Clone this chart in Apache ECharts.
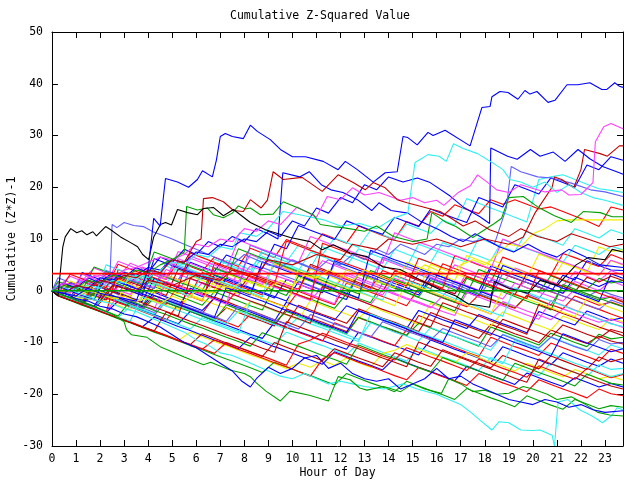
<!DOCTYPE html>
<html><head><meta charset="utf-8">
<script src="https://cdn.jsdelivr.net/npm/echarts@6/dist/echarts.min.js"></script>
<style>html,body{margin:0;padding:0;background:#fff}#c{width:640px;height:480px}</style>
</head><body><div id="c"></div>
<script>
// ---- data ----
const START_HOUR = 0, START_VALUE = 0;
const HOURS = [0.25,0.75,1.25,1.75,2.25,2.75,3.25,3.75,4.25,4.75,5.25,5.75,6.25,6.75,7.25,7.75,8.25,8.75,9.25,9.75,10.25,10.75,11.25,11.75,12.25,12.75,13.25,13.75,14.25,14.75,15.25,15.75,16.25,16.75,17.25,17.75,18.25,18.75,19.25,19.75,20.25,20.75,21.25,21.75,22.25,22.75,23.25,23.75];
const X_TICKS = [0,1,2,3,4,5,6,7,8,9,10,11,12,13,14,15,16,17,18,19,20,21,22,23];
const RED_LEVEL = 3.3, GREEN_LEVEL = 0;

// traced lines: [hour, value]
const tBlueTop = [[0,0],[0.5,-0.5],[1,-1],[1.5,0.5],[2,-0.5],[2.5,-1],[3,-1.5],[3.5,-2],[4.0,4],[4.23,14],[4.5,12.5],[4.72,21.7],[5.22,21],[5.68,20],[6.05,21.5],[6.26,23.2],[6.67,22],[6.84,25.3],[7.0,29.8],[7.21,30.4],[7.5,29.8],[7.96,29.4],[8.25,32],[8.54,30.8],[9.08,29.2],[9.5,27.3],[10,25.9],[10.54,25.9],[11.28,25],[11.9,23.4],[12.2,25],[12.7,23.4],[13.36,21],[13.86,22.8],[14.36,23],[14.6,29.8],[14.8,29.6],[15.19,28.2],[15.64,30.6],[15.85,30],[16.14,30.6],[16.35,31],[17.39,28],[17.88,35.4],[18.22,35.6],[18.3,37.5],[18.63,38.5],[18.97,38.3],[19.38,37],[19.67,38.7],[19.88,38],[20.17,38.5],[20.63,36.4],[20.92,36.8],[21.42,39.8],[21.87,39.8],[22.37,40.2],[22.87,38.9],[23.08,38.9],[23.41,40.2],[23.6,39.5],[23.75,39.3]];
const tBlack = [[0,0],[0.25,-1],[0.45,8.5],[0.55,10.4],[0.78,12],[1.03,11.2],[1.24,11.6],[1.45,10.8],[1.7,11.4],[1.85,10.6],[2.23,12.4],[2.44,11.8],[2.85,10.4],[3.27,9.3],[3.56,8.5],[3.77,7],[4.02,6],[4.23,10.4],[4.51,12.8],[4.72,13.2],[4.97,12.7],[5.22,15.7],[5.64,15.1],[6.05,14.7],[6.3,15.9],[6.71,16.1],[7.13,14.5],[7.55,15.7],[8.25,13.2],[8.88,11.8],[9.91,10.3],[10.74,9.5],[11.24,7.9],[11.7,8.9],[12.4,7.3],[13.1,6.6],[13.77,4.6],[14.48,4.1],[15.31,2.1],[16.14,0.2],[16.8,-1],[17.3,-2.5],[18.2,-3.2],[18.4,1.8],[19,0.5],[19.8,-0.5],[20.3,2],[21,1],[21.8,5],[22.3,6.4],[23,6],[23.3,8],[23.75,7.5]];
const tDarkRedA = [[0,0],[0.5,-0.5],[1,1],[1.5,0.5],[2,2],[2.5,1.5],[3,3],[3.5,2.5],[4,4],[4.5,3.5],[5,6],[5.5,5.5],[6,9.5],[6.2,10],[6.3,17.8],[6.67,18],[7.13,17.2],[7.55,15.5],[7.96,15.3],[8.25,17.6],[8.7,16],[8.96,17.5],[9.2,23],[9.62,21.5],[10.4,21.9],[11.24,19.2],[11.9,22.4],[12.53,20.9],[13.03,19.5],[13.36,20.9],[13.86,19.9],[14.36,17.6],[14.77,17],[15.44,16.2],[16.14,15.3],[16.6,14],[17.1,12.5],[17.6,13.5],[18.2,11.8],[19,10.5],[19.5,12],[20.2,10.5],[21,9.5],[21.6,11],[22.4,9.8],[23.2,8.5],[23.75,9]];
const tGreenTop = [[0,0],[0.5,1],[1,0.5],[1.5,2],[2,1.5],[2.5,3],[3,2.5],[3.5,4],[4,3.5],[4.5,5],[5,6],[5.5,7.5],[5.6,16.3],[6.05,15.6],[6.46,16],[6.71,14.7],[7.13,14.1],[7.5,15],[7.75,16.4],[8.04,15.8],[8.25,16],[8.67,14.7],[9.2,14.8],[9.62,17.2],[10.24,16],[10.87,14.7],[11.16,12.8],[11.7,12.4],[12.1,12.2],[13,11.5],[13.5,12.5],[14.2,10.5],[15,9.5],[15.6,10],[15.8,15.1],[16.4,13.2],[16.8,12.4],[17.5,10.3],[18.2,12.4],[18.4,13],[18.7,14],[19.0,18],[19.6,18.2],[20.2,16.2],[20.9,14.5],[21.6,13.2],[22.1,15.3],[22.8,15.1],[23.3,14.3],[23.75,14.3]];
const tCyanTop = [[0,0],[0.5,-0.5],[1,0.5],[1.5,1],[2,0.5],[2.5,2],[3,1.5],[3.5,3],[4,2.5],[4.5,4],[5,5.5],[5.5,5],[6,7],[6.5,6.5],[7,8.5],[7.5,8],[7.8,11.2],[8.5,10.5],[9,12],[9.6,15.3],[10.5,14.5],[11.3,13.7],[12,12.5],[12.8,13],[13.5,12],[14.2,14],[14.8,15],[15.1,24.8],[15.64,26.3],[16.1,26],[16.4,25],[16.7,28.4],[17.1,27.5],[17.7,26.5],[18.3,24.8],[18.76,23.4],[19.05,21.5],[19.5,21],[20,20],[20.5,21],[21,19],[21.5,20.5],[22,19],[22.5,18],[23,17.5],[23.75,16.5]];
const tMagentaTop = [[0,0],[0.5,1.5],[1,1],[1.5,2.5],[2,3],[2.5,2.5],[3,4],[3.5,4.5],[4,5.5],[4.5,6.5],[5,6],[5.5,7],[6,9],[6.5,8.5],[7,10],[7.5,9.5],[8,12],[8.5,11.5],[9,13.5],[9.5,12.8],[10.2,16.2],[11,14.2],[11.45,18.2],[12,17.6],[12.5,19.9],[13,18.5],[13.6,19],[14.5,17.5],[15,18],[15.5,17],[16,17.5],[16.3,16.5],[16.9,19],[17.4,20.3],[17.7,22.4],[18.1,21],[18.5,19.5],[19,19],[19.5,20.5],[20.5,19.1],[21.2,19.5],[21.5,18.5],[22,18.6],[22.5,20.9],[22.6,28.8],[22.95,31.7],[23.25,32.3],[23.75,31.3]];
const tCyanBottom = [[0,0],[0.5,-0.5],[1,-1],[1.5,-1.5],[2,-2],[2.5,-2.5],[3,-3.5],[3.5,-4],[4,-5],[4.5,-6],[5,-7],[5.5,-8],[6,-9.5],[6.5,-10.5],[7,-12],[7.5,-12.5],[8,-13.5],[8.5,-14.5],[9,-15.5],[9.5,-16.5],[10,-17],[10.5,-16],[11,-17],[11.5,-18],[12,-17.5],[12.5,-18],[13,-18.5],[13.8,-19],[14.6,-18],[15.2,-19],[15.6,-19.5],[16,-20],[16.5,-21],[17,-22],[17.4,-23.4],[17.8,-25],[18.3,-26.9],[18.6,-25.3],[19,-25.5],[19.5,-26.9],[20,-27],[20.3,-26.9],[20.8,-27.9],[20.9,-30],[21.05,-21.5],[21.45,-21],[21.95,-23],[22.5,-24.3],[22.9,-25.5],[23.3,-24],[23.5,-22.6],[23.75,-23]];
const tGreenBottom = [[0,0],[0.5,-1],[1,-1.5],[1.5,-2.5],[2,-3.5],[2.5,-4.5],[3,-6],[3.1,-7.5],[3.3,-8.5],[3.95,-9],[4.5,-10.8],[5.5,-12.8],[6.3,-14.3],[6.6,-13.8],[7.4,-15.3],[8.0,-16],[8.25,-16.6],[8.5,-17.8],[8.9,-19.4],[9.5,-21.3],[9.9,-19.4],[10.7,-20.2],[11.5,-21.3],[11.9,-16.6],[12.4,-17.2],[12.8,-18.8],[13.1,-19.2],[13.8,-18.5],[14.5,-19.5],[15,-18],[15.5,-19],[16.2,-19.8],[16.5,-17],[17,-18],[17.5,-19.5],[18,-19.2],[18.5,-20],[19,-19.8],[19.6,-18.5],[20,-19],[20.6,-20],[21,-21],[21.6,-20.5],[22.2,-22],[22.7,-23.5],[23.2,-24],[23.75,-24.2]];
const tBlueLow = [[0,0],[0.5,-0.5],[1,-1.5],[1.5,-2],[2,-3],[2.5,-3.5],[3,-4.5],[3.5,-5],[4,-6],[4.5,-7],[5,-8.5],[5.5,-10],[6,-11],[6.5,-12.5],[7,-14],[7.5,-15.5],[7.9,-17.5],[8.25,-18.6],[8.5,-17],[9,-14.8],[9.5,-16],[10,-15],[10.5,-13],[11,-12.5],[11.5,-15],[12,-14],[12.5,-16],[13,-17],[13.5,-17.5],[14,-17],[14.5,-19],[15,-18],[15.5,-17],[16,-15],[16.5,-17],[17,-16.5],[17.5,-18],[18,-19],[18.5,-20],[19,-21],[19.5,-21.5],[20,-22],[20.5,-21],[21,-21.5],[21.5,-22.5],[22,-22],[22.5,-23],[23,-23.5],[23.75,-23.2]];
const tDarkRedB = [[0,0],[1,-1],[2,-2],[2.5,1],[3.5,0],[4,2],[5,1],[6,3],[7,2],[7.5,4],[8.5,3],[9,6],[10,5],[11,7],[12,6],[12.5,9],[13.5,8],[14,10],[15,9],[16,10],[17,8.5],[18,10],[19,9],[19.6,10.4],[20.1,15.1],[20.8,20],[20.9,22],[21.2,21.5],[21.7,19.9],[22.0,23.4],[22.15,27.3],[22.8,26.5],[23.1,26],[23.6,28],[23.75,28]];
const tBlueMid = [[0,0],[0.5,1.5],[1,0.5],[1.5,2.5],[2,1.5],[2.5,3.5],[3,2.5],[3.5,4.5],[4,3.5],[4.5,6.5],[5,5.5],[5.5,8],[6,7],[6.5,9.5],[7,8.5],[7.5,10.5],[8,9.5],[8.5,12],[9,11],[9.4,10],[9.6,22.8],[10.3,22],[10.7,23],[11.2,20.5],[11.6,19.5],[12.1,19],[12.7,17.6],[13.3,15.5],[13.6,17],[14.1,15.5],[14.8,15],[15.3,13.5],[16.1,11.8],[16.6,10.5],[17.1,9.5],[17.6,11],[18.2,9.5],[18.6,8.5],[19.2,7.5],[19.8,9],[20.4,7.5],[21,6.5],[21.5,8],[22.2,6.5],[22.8,5],[23.75,4.5]];
const tSlate = [[0,0],[0.5,-0.5],[1,1],[1.5,0.5],[2,2],[2.4,1.5],[2.5,12.8],[2.7,12.2],[3,13.2],[3.4,12.6],[3.8,12.4],[4.2,11.4],[5,10],[5.5,9],[6,8],[6.5,7],[7,6],[7.5,5],[8,7],[8.5,6],[9,5],[9.5,4.5],[10,6],[10.5,5],[11,4],[11.5,6],[12,5],[12.5,7],[13,6],[13.5,8],[14,7],[14.5,9],[15,8],[15.5,7],[16,9],[16.5,8.5],[17,10],[17.5,9.5],[18,10],[18.4,9],[18.9,16],[19.1,24],[19.5,23],[20.2,22],[20.8,21.8],[21.6,20.8],[22.4,19.5],[23,19.1],[23.75,18.2]];
const tYellowFlat = [[0,0],[0.5,-0.5],[1,-1],[1.5,0],[2,-0.5],[2.5,-1.5],[3,-1],[3.5,-2],[4,-1.5],[4.5,-2.5],[5,-1],[5.5,-2],[6,0],[6.5,-0.5],[7,1],[7.5,0.5],[8,2],[8.5,1.5],[9,0.5],[9.5,2],[10,1],[10.5,3],[11,2.5],[11.5,4],[12,3],[12.5,2],[13,4],[13.5,3],[14,2],[14.5,4],[15,3],[15.5,5],[16,4],[16.5,3],[17,5],[17.5,6],[18,5],[18.5,7],[19,9],[19.5,8.5],[20,11],[20.5,12],[21,13.5],[21.5,13.7],[23.75,13.7]];
const tNavy = [[0,0],[0.5,-0.5],[1,1],[1.5,0.5],[2,2.5],[2.5,2],[3,3.5],[3.5,3],[4,4.5],[4.5,4],[5,6],[5.5,5.5],[6,7.5],[6.5,7],[7,9],[7.5,8.5],[8,10],[8.5,9.5],[9,11.5],[9.5,10.5],[10,13.5],[10.5,12.5],[11,16],[11.5,15],[12,18],[12.5,17],[13,20.5],[13.5,19.5],[14.0,22],[14.6,21],[15.2,21.8],[15.73,20.9],[16.56,18.3],[17.1,16.2],[17.8,14.3],[18.2,13],[18.25,27.6],[18.95,26],[19.35,25.4],[19.9,27.3],[20.3,26],[20.85,26.8],[21.34,25],[21.88,27.3],[22.37,25.5],[22.9,24],[23.6,22.8],[23.75,22.5]];

// half-hourly lines (values at HOURS)
const lineA = [-0.5,-1.4,-2.2,1.5,0.6,-0.3,-1.2,2.8,1.9,1.0,0.2,-0.7,3.5,2.6,1.8,0.9,0.1,-0.8,2.0,1.1,0.3,4.8,3.9,3.0,2.2,1.3,0.5,3.9,3.0,2.1,1.3,0.4,5.2,4.3,3.4,2.6,1.7,6.5,5.6,4.8,3.9,3.0,7.2,6.4,5.5,4.7,7.0,6.1];
const lineB = [-0.7,0.8,-0.1,-1.0,-1.8,1.2,0.3,-0.6,-1.5,-2.3,-3.1,0.5,-0.4,-1.3,2.4,1.5,0.6,-0.3,-1.1,-2.0,1.8,0.9,0.0,-0.9,-1.7,3.6,2.7,1.8,0.9,0.1,-0.8,2.5,1.6,0.8,-0.1,-1.0,4.2,3.3,2.4,1.6,0.7,-0.2,3.0,2.1,5.8,4.9,4.0,3.9];
const lineC = [-0.6,-1.5,-2.4,-3.2,-0.4,-1.3,-2.1,-3.0,0.8,-0.1,-1.0,-1.9,-2.8,-0.2,-1.1,-2.0,-2.9,-3.7,1.0,0.1,-0.8,-1.6,-2.5,-3.4,-0.6,-1.5,-2.3,1.4,0.5,-0.4,-1.3,-2.1,-3.0,-3.9,0.2,-0.7,-1.6,-2.4,-3.3,-1.0,-1.9,-2.8,0.9,0.0,-0.9,-1.8,-1.2,-2.1];
const lineD = [0.9,0.0,2.4,1.5,0.6,3.3,2.4,1.5,0.6,4.1,3.2,2.3,1.4,0.6,3.8,2.9,2.1,1.2,5.0,4.1,3.2,2.3,1.5,0.6,3.4,2.5,1.6,0.8,-0.1,2.9,2.0,1.1,0.2,-0.6,3.5,2.6,1.7,0.9,0.0,2.2,1.3,0.4,-0.5,1.8,0.9,0.0,1.9,1.0];
const lineE = [-0.3,1.2,0.3,-0.6,2.6,1.7,0.8,3.1,2.2,1.3,5.0,4.1,3.2,2.3,4.9,4.0,3.1,6.6,5.7,4.8,3.9,7.5,6.6,5.7,4.8,8.1,7.2,6.3,5.4,4.6,9.0,8.1,7.2,6.3,5.5,10.2,9.3,8.4,7.6,11.5,10.6,9.7,8.8,12.0,11.1,10.2,11.8,11.0];
const lineF = [-0.8,-1.7,-2.6,-3.4,-1.2,-2.1,-3.0,-3.8,-4.7,-2.0,-2.9,-3.8,-4.6,-5.5,-3.3,-4.2,-5.1,-5.9,-6.8,-3.5,-4.4,-5.3,-6.1,-7.0,-7.9,-5.2,-6.1,-7.0,-7.8,-8.7,-4.8,-5.7,-6.6,-7.4,-8.3,-9.2,-6.5,-7.4,-8.3,-9.1,-10.0,-7.6,-8.5,-9.4,-10.2,-8.8,-9.7,-10.3];
const lineG = [-0.9,-1.8,-0.2,-1.1,-2.0,-2.8,-3.7,-1.0,-1.9,-2.8,-3.6,-0.8,-1.7,-2.6,-3.4,-4.3,-2.1,-3.0,-3.9,-4.7,-5.6,-1.9,-2.8,-3.7,-4.5,-5.4,-3.0,-3.9,-4.8,-5.6,-6.5,-2.4,-3.3,-4.2,-5.0,-5.9,-6.8,-4.1,-5.0,-5.9,-6.7,-7.6,-4.9,-5.8,-6.7,-7.5,-5.3,-6.0];
const lineH = [-0.7,-1.6,-2.5,-3.3,-4.2,-2.0,-2.9,-3.8,-4.6,-5.5,-6.4,-4.0,-4.9,-5.8,-6.6,-7.5,-8.4,-9.2,-6.1,-7.0,-7.9,-8.7,-9.6,-10.5,-11.3,-8.0,-8.9,-9.8,-10.6,-11.5,-12.4,-9.5,-10.4,-11.3,-12.1,-13.0,-13.9,-10.8,-11.7,-12.6,-13.4,-14.3,-12.0,-12.9,-13.8,-14.6,-13.2,-14.0];
const lineI = [0.4,-0.5,2.0,1.1,0.2,-0.7,3.1,2.2,1.3,0.5,-0.4,3.8,2.9,2.0,1.1,0.3,-0.6,4.5,3.6,2.7,1.9,1.0,0.1,5.2,4.3,3.4,2.5,1.7,0.8,-0.1,3.2,2.3,1.4,0.6,-0.3,-1.2,2.1,1.2,0.3,-0.6,-1.5,1.4,0.5,-0.4,-1.2,0.2,-0.7,-1.4];
const lineJ = [-0.9,-1.8,-2.7,-0.5,-1.4,-2.3,-3.1,-4.0,-4.9,-5.7,-2.6,-3.5,-4.4,-5.2,-6.1,-7.0,-4.5,-5.4,-6.3,-7.1,-8.0,-8.9,-9.7,-6.2,-7.1,-8.0,-8.8,-9.7,-10.6,-7.5,-8.4,-9.3,-10.1,-11.0,-11.9,-12.7,-9.0,-9.9,-10.8,-11.6,-12.5,-10.1,-11.0,-11.9,-12.7,-13.6,-11.3,-12.1];
const lineK = [0.5,-0.4,1.8,0.9,3.2,2.3,1.4,4.0,3.1,2.2,5.6,4.7,3.8,6.5,5.6,4.7,8.2,7.3,6.4,9.9,9.0,8.1,11.0,10.1,9.2,12.5,11.6,10.7,9.9,13.4,12.5,15.3,14.4,16.6,15.7,14.9,17.6,16.7,17.6,16.7,15.8,16.2,15.3,14.4,13.5,12.4,16.2,15.6];
const lineL = [-0.6,-1.5,0.9,0.0,-0.9,2.0,1.1,0.2,3.6,2.7,1.8,4.9,4.0,3.1,5.9,5.0,4.1,7.4,6.5,5.6,8.8,7.9,7.0,10.2,9.3,8.4,11.7,10.8,9.9,12.9,12.0,11.1,13.6,12.7,17.8,16.9,16.0,15.1,14.2,13.3,21.5,22.0,22.4,21.5,20.6,19.7,19.4,19.0];
const lineM = [-0.8,-1.7,-2.5,-0.2,-1.1,-2.0,-2.8,-3.7,-1.4,-2.3,-3.2,-4.0,-4.9,-5.8,-2.7,-3.6,-4.5,-5.3,-6.2,-4.0,-4.9,-5.8,-6.6,-7.5,-8.4,-5.1,-6.0,-6.9,-7.7,-8.6,-6.3,-7.2,-8.1,-8.9,-9.8,-10.7,-7.0,-7.9,-8.8,-9.6,-10.5,-8.2,-9.1,-10.0,-10.8,-8.4,-9.3,-9.0];
const lineN = [-0.9,-1.8,-2.6,-3.5,-4.4,-5.2,-3.0,-3.9,-4.8,-5.6,-6.5,-7.4,-5.2,-6.1,-7.0,-7.8,-8.7,-9.6,-10.4,-8.0,-8.9,-9.8,-10.6,-11.5,-12.4,-10.1,-11.0,-11.9,-12.7,-13.6,-11.0,-11.9,-12.8,-13.6,-14.5,-15.4,-12.9,-13.8,-14.7,-15.5,-16.4,-14.0,-14.9,-15.8,-16.6,-14.3,-15.2,-15.0];
const lineO = [-0.9,-1.8,-2.7,-3.5,-4.4,-5.3,-6.1,-7.0,-7.9,-8.7,-9.6,-8.0,-8.9,-9.8,-10.6,-11.5,-12.4,-13.2,-14.1,-15.0,-14.0,-14.8,-13.5,-14.4,-13.0,-13.9,-14.8,-12.1,-11.5,-10.4,-11.3,-12.2,-13.0,-13.9,-12.0,-12.9,-13.8,-14.6,-15.5,-14.0,-14.9,-15.8,-16.6,-15.2,-16.1,-17.0,-16.5,-17.3];
const lineP = [-0.5,1.5,0.6,-0.3,2.8,1.9,1.0,0.2,3.9,3.0,2.1,5.5,4.6,3.7,6.9,6.0,5.1,4.3,9.0,8.1,12.6,11.7,10.8,9.9,13.5,12.6,11.7,10.9,14.2,13.3,12.4,15.8,14.9,14.0,13.2,18.0,17.1,16.2,20.5,19.6,18.7,21.8,20.9,20.0,24.3,23.4,25.9,25.2];
const lineQ = [1.5,0.6,-0.3,3.0,2.1,1.2,0.4,4.6,3.7,2.8,2.0,6.3,5.4,4.5,3.7,2.8,7.0,6.1,5.2,4.4,3.5,2.6,5.8,4.9,4.0,3.2,2.3,6.1,5.2,4.3,3.5,2.6,1.7,5.0,4.1,3.2,2.4,1.5,4.4,3.5,2.6,1.8,0.9,3.7,2.8,1.9,3.9,3.0];
const lineR = [-0.6,1.0,0.1,-0.8,-1.7,0.9,0.0,-0.9,-1.7,-2.6,1.1,0.2,-0.7,-1.5,-2.4,0.3,-0.6,-1.5,-2.3,-3.2,-0.1,-1.0,-1.9,-2.7,1.5,0.6,-0.3,-1.1,-2.0,-2.9,0.4,-0.5,-1.4,-2.2,-3.1,-0.8,-1.7,-2.6,-3.4,-0.9,-1.8,-2.7,-3.5,-1.0,-1.9,-2.8,-2.2,-3.0];
const lineS = [-0.8,-1.7,-2.5,0.4,-0.5,-1.4,-2.2,-3.1,-0.3,-1.2,-2.1,-2.9,-3.8,-1.5,-2.4,-3.3,-4.1,-5.0,-5.9,-2.2,-3.1,-4.0,-4.8,-5.7,-2.9,-3.8,-4.7,-5.5,-6.4,-7.3,-3.8,-4.7,-5.6,-6.4,-7.3,-4.6,-5.5,-6.4,-7.2,-8.1,-4.0,-4.9,-5.8,-6.6,-3.9,-4.8,-5.7,-5.2];
const lineU = [-0.7,-1.6,1.0,0.1,-0.8,-1.6,-2.5,-3.4,-0.9,-1.8,-2.7,-3.5,-4.4,-1.2,-2.1,-3.0,-3.8,-4.7,-5.6,-6.4,-2.8,-3.7,-4.6,-5.4,-6.3,-3.5,-4.4,-5.3,-6.1,-7.0,-7.9,-4.2,-5.1,-6.0,-6.8,-7.7,-8.6,-5.5,-6.4,-7.3,-8.1,-9.0,-6.6,-7.5,-8.4,-9.2,-7.5,-8.1];
const lineV = [0.2,-0.7,-1.6,1.5,0.6,-0.3,-1.1,2.0,1.1,0.2,-0.6,2.9,2.0,1.1,0.3,-0.6,3.5,2.6,1.7,0.9,0.0,4.2,3.3,2.4,1.6,0.7,-0.2,3.0,2.1,1.2,0.4,5.1,4.2,3.3,2.5,1.6,6.0,5.1,4.2,3.4,2.5,1.6,5.5,4.6,3.7,2.9,5.8,5.0];
const lineW = [-0.6,-1.5,-2.3,-3.2,-1.0,-1.9,-2.8,-3.6,-4.5,-2.0,-2.9,-3.8,-4.6,-5.5,-6.4,-3.9,-4.8,-5.7,-6.5,-7.4,-5.0,-5.9,-6.8,-7.6,-8.5,-9.4,-6.2,-7.1,-8.0,-8.8,-9.7,-7.1,-8.0,-8.9,-9.7,-10.6,-11.5,-8.4,-9.3,-10.2,-11.0,-8.9,-9.8,-10.7,-11.5,-12.4,-10.5,-11.2];
const lineX = [-0.9,-1.8,-2.7,-3.5,-4.4,-5.3,-6.1,-7.0,-5.1,-6.0,-6.9,-7.7,-8.6,-9.5,-10.3,-11.2,-9.0,-9.9,-10.8,-11.6,-12.5,-13.4,-14.2,-11.8,-12.7,-13.6,-14.4,-15.3,-13.0,-13.9,-14.8,-15.6,-16.5,-17.4,-14.6,-15.5,-16.4,-17.2,-18.1,-15.9,-16.8,-17.7,-18.5,-16.8,-17.7,-18.6,-17.9,-18.6];
const lineY = [-0.8,-1.7,-2.6,-3.4,-4.3,-5.2,-6.0,-6.9,-7.8,-8.6,-9.5,-10.4,-11.2,-12.1,-10.0,-10.9,-11.8,-12.6,-13.5,-14.4,-10.3,-9.5,-8.2,-9.1,-10.0,-10.8,-11.7,-12.6,-13.4,-11.0,-11.9,-12.8,-13.6,-14.5,-15.4,-13.2,-14.1,-15.0,-15.8,-16.7,-14.5,-15.4,-16.3,-17.1,-15.0,-15.9,-16.8,-16.2];
const lineZ = [-1.0,-1.9,-2.8,-3.6,-4.5,-5.4,-6.2,-7.1,-8.0,-8.8,-9.7,-10.6,-11.4,-12.3,-13.2,-14.0,-14.9,-15.8,-13.8,-14.7,-15.6,-16.4,-17.3,-18.2,-16.0,-16.9,-17.8,-18.6,-19.5,-17.5,-18.4,-19.3,-20.1,-21.0,-18.9,-19.8,-20.7,-21.5,-22.4,-20.3,-21.2,-22.1,-22.9,-21.0,-21.9,-22.8,-22.2,-22.5];
const lineAA = [-0.9,-1.8,-2.6,-3.5,-4.4,-5.2,-6.1,-7.0,-7.8,-8.7,-9.6,-10.4,-8.3,-9.2,-10.1,-10.9,-11.8,-12.7,-10.0,-10.9,-11.8,-12.6,-13.5,-11.2,-12.1,-13.0,-13.8,-14.7,-12.0,-12.9,-13.8,-14.6,-11.4,-12.3,-13.2,-14.0,-14.9,-12.5,-13.4,-14.3,-15.1,-12.6,-13.5,-14.4,-15.2,-12.8,-13.7,-13.1];
const lineAB = [0.8,-0.1,-1.0,1.9,1.0,0.1,-0.7,2.3,1.4,0.5,-0.3,-1.2,1.6,0.7,-0.2,-1.0,2.5,1.6,0.7,-0.1,-1.0,-1.9,0.8,-0.1,-1.0,-1.8,-2.7,0.2,-0.7,-1.6,-2.4,-3.3,-1.0,-1.9,-2.8,-3.6,-4.5,-2.1,-3.0,-3.9,-4.7,-5.6,-3.5,-4.4,-5.3,-6.1,-5.5,-6.3];
const lineAD = [-0.4,-1.3,-2.2,-3.0,0.5,-0.4,-1.3,-2.1,2.4,1.5,0.6,-0.2,-1.1,3.0,2.1,1.2,0.4,-0.5,-1.4,2.2,1.3,0.4,-0.4,5.8,4.9,4.0,3.2,2.3,1.4,0.6,-0.3,3.5,2.6,1.7,0.9,0.0,4.8,3.9,3.0,2.2,1.3,0.4,-0.5,2.6,1.7,0.8,1.9,1.6];
const lineAE = [-0.5,-1.4,-2.3,0.2,-0.7,-1.6,-2.4,-3.3,-4.2,-1.5,-2.4,-3.3,-4.1,-5.0,-5.9,-3.0,-3.9,-4.8,-5.6,-6.5,-7.4,-4.6,-5.5,-6.4,-7.2,-8.1,-9.0,-6.0,-6.9,-7.8,-8.6,-9.5,-7.3,-8.2,-9.1,-9.9,-10.8,-8.5,-9.4,-10.3,-11.1,-9.0,-9.9,-10.8,-11.6,-9.4,-10.3,-10.0];
const lineAF = [0.6,-0.3,2.2,1.3,0.4,3.6,2.7,1.8,1.0,4.8,3.9,3.0,2.2,6.1,5.2,4.3,3.5,7.9,7.0,6.1,5.3,4.4,8.5,7.6,6.7,5.9,5.0,4.1,8.0,7.1,6.2,5.4,9.3,8.4,7.5,6.7,5.8,9.9,9.0,8.1,7.3,6.4,5.5,8.8,7.9,7.0,8.6,7.9];
const lineAG = [-0.7,0.9,0.0,-0.9,2.2,1.3,0.4,-0.4,3.5,2.6,1.7,0.9,0.0,4.4,3.5,2.6,1.8,0.9,0.0,-0.9,2.8,1.9,1.0,0.2,-0.7,3.2,2.3,1.4,0.6,-0.3,-1.2,2.0,1.1,0.2,-0.6,4.1,3.2,2.3,1.5,0.6,-0.3,2.9,2.0,1.1,0.3,2.4,1.5,2.0];
const lineAH = [0.3,-0.6,1.2,0.3,-0.6,2.1,1.2,0.3,-0.5,3.0,2.1,1.2,0.4,-0.5,3.3,2.4,1.5,0.7,5.2,4.3,3.4,2.6,1.7,0.8,4.1,3.2,2.3,1.5,0.6,5.5,4.6,3.7,2.9,2.0,6.8,5.9,5.0,4.2,3.3,2.4,7.1,6.2,5.3,4.5,3.6,8.5,7.6,7.9];
const lineAI = [-0.9,1.7,0.8,-0.1,-1.0,2.6,1.7,0.8,0.0,-0.9,4.2,3.3,2.4,1.6,0.7,-0.2,3.3,2.4,1.5,0.7,-0.2,5.1,4.2,3.3,2.5,1.6,0.7,-0.2,3.8,2.9,2.0,1.2,0.3,-0.6,2.7,1.8,0.9,0.1,-0.8,3.4,2.5,1.6,0.8,-0.1,2.6,1.7,2.8,2.0];
const lineAJ = [0.7,2.8,1.9,4.4,3.5,2.6,5.3,4.4,3.5,2.7,6.2,5.3,4.4,3.6,2.7,1.8,4.8,3.9,3.0,2.2,1.3,0.4,3.6,2.7,1.8,1.0,0.1,-0.8,2.4,1.5,0.6,-0.2,-1.1,1.9,1.0,0.1,-0.7,-1.6,1.5,0.6,-0.3,-1.1,-2.0,0.3,-0.6,-1.5,-1.0,-1.8];
const lineAK = [-0.9,-1.8,-2.6,-3.5,-4.4,-5.2,-6.1,-7.0,-7.8,-8.7,-9.6,-10.4,-11.3,-9.5,-10.4,-11.3,-12.1,-13.0,-13.9,-14.7,-15.6,-16.5,-13.2,-12.0,-12.9,-13.8,-14.6,-15.5,-16.4,-17.2,-14.8,-15.7,-16.6,-17.4,-18.3,-16.0,-16.9,-17.8,-18.6,-19.5,-17.2,-18.1,-19.0,-19.8,-20.7,-19.0,-19.9,-20.3];
const lineAL = [-0.9,-1.8,3.5,2.6,1.7,0.9,0.0,-0.9,6.2,5.3,4.4,3.6,2.7,1.8,1.0,0.1,-0.8,5.6,4.7,3.8,3.0,2.1,1.2,0.4,-0.5,-1.4,7.8,6.9,6.0,5.2,4.3,3.4,2.6,1.7,0.8,0.0,-0.9,4.9,4.0,3.1,2.3,1.4,0.5,-0.3,-1.2,-2.1,3.3,2.4];
const lineAM = [-0.8,-1.7,-2.6,-3.4,-4.3,4.1,3.2,2.3,1.5,0.6,-0.3,-1.1,-2.0,5.3,4.4,3.5,2.7,1.8,0.9,0.1,-0.8,-1.7,9.2,8.3,7.4,6.6,5.7,4.8,4.0,3.1,2.2,1.4,0.5,6.8,5.9,5.0,4.2,3.3,2.4,1.6,0.7,-0.2,-1.0,-1.9,-2.8,-3.6,-4.5,-5.3];
const lineAN = [1.8,0.9,0.0,4.6,3.7,2.8,2.0,1.1,7.5,6.6,5.7,4.9,4.0,3.1,2.3,8.1,7.2,6.3,5.5,4.6,3.7,2.9,2.0,1.1,0.3,-0.6,3.9,3.0,2.1,1.3,0.4,-0.5,-1.3,-2.2,2.4,1.5,0.6,-0.2,-1.1,-2.0,-2.8,-3.7,1.2,0.3,-0.6,-1.4,-2.3,-3.1];
const lineAO = [-0.6,-1.5,-2.4,-3.2,-4.1,-1.0,-1.9,-2.8,-3.6,1.8,0.9,0.0,-0.8,-1.7,-2.6,4.5,3.6,2.7,1.9,1.0,0.1,-0.7,-1.6,-2.5,3.0,2.1,1.2,0.4,-0.5,-1.4,-2.2,-3.1,-4.0,-4.8,-0.3,-1.2,-2.1,-2.9,-3.8,-4.7,-5.5,-1.9,-2.8,-3.7,-4.5,-5.4,-6.3,-7.1];
const lineAP = [-0.7,-1.6,-2.5,-3.3,-4.2,-5.1,-5.9,-1.2,-2.1,-3.0,-3.8,-4.7,-5.6,-6.4,-7.3,-8.2,-2.0,-2.9,-3.8,-4.6,-5.5,-6.4,-7.2,-8.1,-9.0,-9.8,-4.5,-5.4,-6.3,-7.1,-8.0,-8.9,-9.7,-10.6,-11.5,-12.3,-13.2,-14.1,-9.6,-10.5,-11.4,-12.2,-13.1,-14.0,-14.8,-15.7,-16.6,-16.0];
const lineAQ = [2.5,1.6,0.7,-0.1,3.9,3.0,2.1,1.3,0.4,5.6,4.7,3.8,3.0,2.1,1.2,0.4,8.8,7.9,7.0,6.2,5.3,4.4,3.6,2.7,1.8,1.0,0.1,6.5,5.6,4.7,3.9,3.0,2.1,1.3,0.4,-0.5,-1.3,3.4,2.5,1.6,0.8,-0.1,-1.0,-1.8,-2.7,-3.6,-1.8,-2.6];
const lineAR = [-0.9,-1.8,-2.6,1.2,0.3,-0.6,-1.4,-2.3,-3.2,-4.0,-4.9,2.4,1.5,0.6,-0.2,-1.1,-2.0,-2.8,-3.7,-4.6,-5.4,-6.3,0.8,-0.1,-1.0,-1.8,-2.7,-3.6,-4.4,-5.3,-6.2,-7.0,-2.3,-3.2,-4.1,-4.9,-5.8,-6.7,-7.5,-8.4,-2.6,-3.5,-4.4,-5.2,-6.1,-7.0,-7.8,-8.7];
const lineAS = [-0.8,1.9,1.0,0.1,-0.7,-1.6,3.3,2.4,1.5,0.7,-0.2,-1.1,-1.9,2.0,1.1,0.2,-0.6,-1.5,-2.4,-3.2,4.1,3.2,2.3,1.5,0.6,-0.3,-1.1,-2.0,-2.9,1.6,0.7,-0.2,-1.0,-1.9,-2.8,-3.6,-4.5,0.2,-0.7,-1.6,-2.4,-3.3,-4.2,-5.0,-1.5,-2.4,-3.3,-4.1];
const lineAT = [0.9,0.0,-0.9,-1.7,2.6,1.7,0.8,0.0,-0.9,-1.8,-2.6,-3.5,-4.4,-5.2,0.6,-0.3,-1.2,-2.0,-2.9,-3.8,-4.6,-5.5,-6.4,-7.2,-8.1,-3.9,-4.8,-5.7,-6.5,-7.4,-8.3,-9.1,-10.0,-5.6,-6.5,-7.4,-8.2,-9.1,-10.0,-10.8,-11.7,-12.6,-8.3,-9.2,-10.1,-10.9,-11.8,-11.2];
const lineAU = [-0.7,3.2,2.3,1.4,0.6,5.1,4.2,3.3,2.5,1.6,0.7,7.3,6.4,5.5,4.7,3.8,2.9,2.1,1.2,9.6,8.7,7.8,7.0,6.1,5.2,4.4,3.5,2.6,1.8,0.9,6.3,5.4,4.5,3.7,2.8,1.9,1.1,0.2,-0.7,-1.5,3.9,3.0,2.1,1.3,0.4,-0.5,-1.3,-2.2];
const lineAV = [-0.5,-1.4,-2.3,-3.1,-4.0,-4.9,-2.0,-2.9,-3.8,-4.6,-5.5,-6.4,-7.2,-8.1,-9.0,-9.8,-10.7,-8.1,-9.0,-9.9,-10.7,-11.6,-12.5,-13.3,-14.2,-10.5,-11.4,-12.3,-13.1,-14.0,-14.9,-15.7,-12.9,-13.8,-14.7,-15.5,-16.4,-17.3,-14.0,-14.9,-15.8,-16.6,-17.5,-18.4,-16.1,-17.0,-17.9,-18.2];
const lineAW = [1.1,0.2,-0.7,-1.5,5.0,4.1,3.2,2.4,1.5,0.6,-0.2,-1.1,3.2,2.3,1.4,0.6,-0.3,-1.2,6.0,5.1,4.2,3.4,2.5,1.6,0.8,-0.1,-1.0,-1.8,2.9,2.0,1.1,0.3,-0.6,-1.5,-2.3,-3.2,-4.1,-4.9,0.6,-0.3,-1.2,-2.0,-2.9,-3.8,-4.6,-5.5,-6.4,-6.9];
const lineAX = [0.4,-0.5,3.2,2.3,1.4,5.7,4.8,3.9,3.1,2.2,7.6,6.7,5.8,5.0,4.1,9.8,8.9,8.0,7.2,6.3,5.4,10.5,9.6,8.7,7.9,7.0,6.1,5.3,11.2,10.3,9.4,8.6,7.7,6.8,6.0,5.1,4.2,10.0,9.1,8.2,7.4,6.5,5.6,4.8,3.9,3.0,5.9,5.1];
const lineAY = [-0.9,-1.8,-2.6,-3.5,-4.4,-5.2,-6.1,-7.0,-7.8,-4.1,-5.0,-5.9,-6.7,-7.6,-8.5,-9.3,-10.2,-11.1,-11.9,-6.0,-6.9,-7.8,-8.6,-9.5,-10.4,-11.2,-12.1,-13.0,-13.8,-14.7,-9.9,-10.8,-11.7,-12.5,-13.4,-14.3,-15.1,-16.0,-16.9,-17.7,-13.2,-14.1,-15.0,-15.8,-16.7,-17.6,-18.4,-19.0];

// ---- styles ----
const C = {red:'#ff0000', green:'#00a000', blue:'#0000ff', magenta:'#ff40ff', cyan:'#30f0f0', darkred:'#c00000', yellow:'#eeee00', black:'#000000', slate:'#6060ff'};

const gridLines = [
  [lineA,'red'],[lineB,'blue'],[lineC,'green'],[lineD,'magenta'],[lineE,'cyan'],[lineF,'darkred'],[lineG,'yellow'],
  [lineH,'blue'],[lineI,'slate'],[lineJ,'red'],[lineK,'red'],[lineL,'cyan'],[lineM,'green'],[lineN,'cyan'],
  [lineO,'yellow'],[lineP,'blue'],[lineQ,'magenta'],[lineR,'red'],[lineS,'blue'],[lineU,'darkred'],[lineV,'yellow'],
  [lineW,'cyan'],[lineX,'blue'],[lineY,'red'],[lineZ,'green'],[lineAA,'darkred'],[lineAB,'magenta'],[lineAD,'blue'],
  [lineAE,'slate'],[lineAF,'cyan'],[lineAG,'green'],[lineAH,'yellow'],[lineAI,'darkred'],[lineAJ,'magenta'],[lineAK,'red'],
  [lineAL,'blue'],[lineAM,'red'],[lineAN,'green'],[lineAO,'magenta'],[lineAP,'cyan'],[lineAQ,'slate'],[lineAR,'darkred'],
  [lineAS,'yellow'],[lineAT,'blue'],[lineAU,'red'],[lineAV,'green'],[lineAW,'cyan'],[lineAX,'magenta'],[lineAY,'darkred']
];
const tracedLines = [
  [tYellowFlat,'yellow'],[tSlate,'slate'],[tBlueMid,'blue'],[tDarkRedB,'darkred'],[tNavy,'blue'],
  [tCyanBottom,'cyan'],[tGreenBottom,'green'],[tBlueLow,'blue'],[tCyanTop,'cyan'],[tMagentaTop,'magenta'],
  [tGreenTop,'green'],[tDarkRedA,'darkred'],[tBlack,'black'],[tBlueTop,'blue']
];

function fromGrid(vals){
  const d = [[START_HOUR, START_VALUE]];
  vals.forEach((v,i)=>{ if (i < HOURS.length) d.push([HOURS[i], v]); });
  return d;
}
function mk(data, col, w){
  return {type:'line', data:data, showSymbol:false, symbol:'none', silent:true, animation:false,
    lineStyle:{width:w||1.1, color:C[col]}, itemStyle:{color:C[col]}, z:2};
}
const series = [];
gridLines.forEach(([v,c])=>series.push(mk(fromGrid(v),c)));
tracedLines.forEach(([v,c])=>series.push(mk(v,c)));
const xEnd = HOURS[HOURS.length-1];
series.push(mk([[START_HOUR,GREEN_LEVEL],[xEnd,GREEN_LEVEL]],'green',1.4));
series.push(mk([[START_HOUR,RED_LEVEL],[xEnd,RED_LEVEL]],'red',1.6));

const FONT = 'DejaVu Sans Mono';
const chart = echarts.init(document.getElementById('c'), null, {renderer:'canvas'});
chart.setOption({
  backgroundColor:'#ffffff',
  animation:false,
  title:{text:'Cumulative Z-Squared Value', left:'center', top:5,
    textStyle:{fontFamily:FONT, fontSize:11.5, fontWeight:'normal', color:'#000'}},
  grid:{left:52, right:17, top:32, bottom:34, containLabel:false, outerBoundsMode:'none'},
  xAxis:[
    {type:'value', min:0, max:xEnd, interval:1, position:'bottom',
     name:'Hour of Day', nameLocation:'middle', nameGap:21, nameMoveOverlap:false,
     nameTextStyle:{fontFamily:FONT, fontSize:11.5, color:'#000'},
     axisLine:{show:true, onZero:false, lineStyle:{color:'#000', width:1}},
     axisTick:{show:true, inside:true, length:6, lineStyle:{color:'#000'}},
     axisLabel:{show:true, showMaxLabel:false, margin:7, fontFamily:FONT, fontSize:11.5, color:'#000',
       formatter:v=>X_TICKS.indexOf(v)>=0 ? String(v) : ''},
     splitLine:{show:false}},
    {type:'value', min:0, max:xEnd, interval:1, position:'top',
     axisLine:{show:true, onZero:false, lineStyle:{color:'#000', width:1}},
     axisTick:{show:true, inside:true, length:6, lineStyle:{color:'#000'}},
     axisLabel:{show:false}, splitLine:{show:false}}
  ],
  yAxis:[
    {type:'value', min:-30, max:50, interval:10, position:'left',
     name:'Cumulative (Z*Z)-1', nameLocation:'middle', nameGap:34, nameMoveOverlap:false,
     nameTextStyle:{fontFamily:FONT, fontSize:11.5, color:'#000'},
     axisLine:{show:true, onZero:false, lineStyle:{color:'#000', width:1}},
     axisTick:{show:true, inside:true, length:6, lineStyle:{color:'#000'}},
     axisLabel:{margin:9, fontFamily:FONT, fontSize:11.5, color:'#000'},
     splitLine:{show:false}},
    {type:'value', min:-30, max:50, interval:10, position:'right',
     axisLine:{show:true, onZero:false, lineStyle:{color:'#000', width:1}},
     axisTick:{show:true, inside:true, length:6, lineStyle:{color:'#000'}},
     axisLabel:{show:false}, splitLine:{show:false}}
  ],
  series: series
});
</script></body></html>
